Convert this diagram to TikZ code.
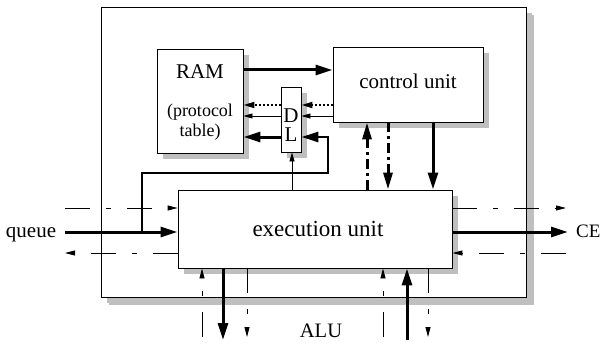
\documentclass[tikz,border=0pt]{standalone}
\usepackage{fontspec}
\setmainfont{Liberation Serif}
\usetikzlibrary{arrows.meta,shadows}
\begin{document}
\begin{tikzpicture}[x=1pt,y=-1pt,
  box/.style={draw,line width=0.9pt,fill=white,inner sep=0pt,
    drop shadow={shadow xshift=6pt,shadow yshift=-6pt,fill=black!25,opacity=1}},
  bigbox/.style={box,drop shadow={shadow xshift=8pt,shadow yshift=-8pt,fill=black!25,opacity=1}},
  big/.style={font=\fontsize{21}{24}\selectfont,inner sep=0pt},
  small/.style={font=\fontsize{18}{18}\selectfont,inner sep=0pt},
  thk/.style={line width=3pt,-{Triangle[length=17pt,width=10pt]}},
  thkline/.style={line width=2.6pt},
  thn/.style={line width=0.9pt,-{Triangle[length=9pt,width=5pt]}},
  dotl/.style={line width=2pt,dash pattern=on 2pt off 2pt,-{Triangle[length=11pt,width=6pt]}},
  dd/.style={line width=0.9pt,dash pattern=on 25pt off 16pt on 5pt off 16pt,-{Triangle[length=10pt,width=5pt]}},
  ddthk/.style={line width=3pt,dash pattern=on 10pt off 4pt on 3pt off 4pt,-{Triangle[length=17pt,width=9pt]}},
]
\useasboundingbox (0,0) rectangle (603,345);

% boxes
\node[bigbox,minimum width=425pt,minimum height=290pt] (outer) at (313.5,152) {};
\node[box,minimum width=86pt,minimum height=104pt] (ram) at (200,101) {};
\node[box,minimum width=150pt,minimum height=75pt] (ctrl) at (408,84.5) {};
\node[box,minimum width=20pt,minimum height=65pt] (dl) at (291,119.5) {};
\node[box,minimum width=274pt,minimum height=78pt] (exec) at (315,229) {};

% texts
\node[big,anchor=mid] (ramt) at (200,76) {RAM};
\node[small,anchor=base] (prot) at (200,117) {(protocol};
\node[small,anchor=base] (tab) at (200,136) {table)};
\node[big,anchor=base] (dt) at (291,122.5) {D};
\node[big,anchor=base] (lt) at (291,142) {L};
\node[big,anchor=mid] (ctrlt) at (408,86) {control unit};
\node[font=\fontsize{23}{26}\selectfont,inner sep=0pt,anchor=base] (exect) at (318,236.7) {execution unit};
\node[big,anchor=base] (queue) at (31,237) {queue};
\node[font=\fontsize{19}{22}\selectfont,inner sep=0pt,anchor=base west] (ce) at (576,237) {CE};
\node[font=\fontsize{20.5}{24}\selectfont,inner sep=0pt,anchor=base] (alu) at (321,337.3) {ALU};

% RAM <-> control / DL
\draw[thk] (ram.east |- 0,70) -- (ctrl.west |- 0,70);
\draw[dotl] (ctrl.west |- 0,105) -- (dl.east |- 0,105);
\draw[dotl] (dl.west |- 0,105) -- (ram.east |- 0,105);
\draw[thn] (ctrl.west |- 0,116) -- (dl.east |- 0,116);
\draw[thn] (dl.west |- 0,116) -- (ram.east |- 0,116);
\draw[thk] (dl.west |- 0,137) -- (ram.east |- 0,137);
\draw[thn] (exec.north -| 292,0) -- (dl.south -| 292,0);

% queue branch into DL
\coordinate (qbr) at (142,232);
\draw[thkline,-{Triangle[length=17pt,width=10pt]}] (qbr) -- (142,173) -- (328,173) -- (328,137) -- (dl.east |- 0,137);

% control <-> exec
\draw[ddthk] (exec.north -| 367,0) -- (ctrl.south -| 367,0);
\draw[ddthk] (ctrl.south -| 388,0) -- (exec.north -| 388,0);
\draw[thk] (ctrl.south -| 433,0) -- (exec.north -| 433,0);

% left side
\coordinate (ql) at (65,232);
\coordinate (tl) at (65,208);
\coordinate (bl) at (65,253);
\draw[thk] (ql) -- (exec.west |- ql);
\draw[dd] (tl) -- (exec.west |- tl);
\draw[dd] (exec.west |- bl) -- (bl);

% right side
\coordinate (qr) at (568,232);
\coordinate (tr) at (566,208);
\coordinate (br) at (566,253);
\draw[thk] (exec.east |- qr) -- (qr);
\draw[dd] (exec.east |- tr) -- (tr);
\draw[dd] (br) -- (exec.east |- br);

% bottom
\coordinate (b1) at (202,337);
\coordinate (b2) at (223,340);
\coordinate (b3) at (247,337);
\coordinate (b4) at (383,337);
\coordinate (b5) at (407,340);
\coordinate (b6) at (428,337);
\draw[dd] (b1) -- (exec.south -| b1);
\draw[thk] (exec.south -| b2) -- (b2);
\draw[dd] (exec.south -| b3) -- (b3);
\draw[dd] (b4) -- (exec.south -| b4);
\draw[thk] (b5) -- (exec.south -| b5);
\draw[dd] (exec.south -| b6) -- (b6);
\end{tikzpicture}
\end{document}
